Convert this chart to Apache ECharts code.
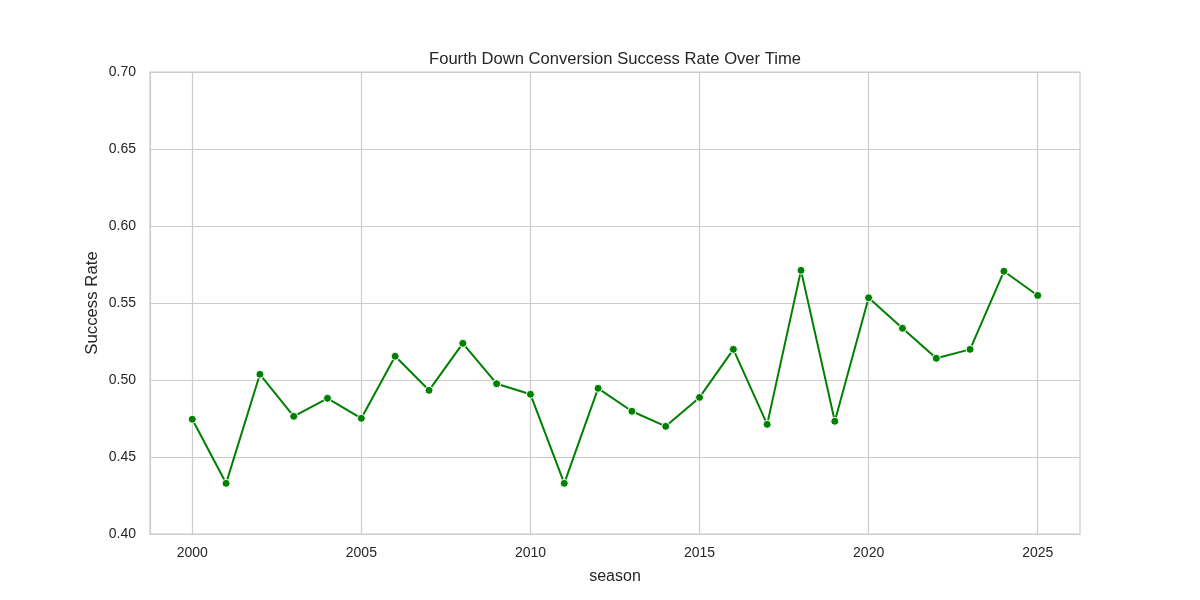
<!DOCTYPE html>
<html>
<head>
<meta charset="utf-8">
<script src="https://cdn.jsdelivr.net/npm/echarts@6/dist/echarts.min.js"></script>
<style>html,body{margin:0;padding:0;background:#fff}#c{width:1200px;height:600px}</style>
</head>
<body>
<div id="c"></div>
<script>
const seasons = [2000,2001,2002,2003,2004,2005,2006,2007,2008,2009,2010,2011,2012,2013,2014,2015,2016,2017,2018,2019,2020,2021,2022,2023,2024,2025];
const successRate = [0.4745,0.4329,0.5037,0.4764,0.4881,0.4751,0.5154,0.4933,0.5238,0.4976,0.4907,0.4329,0.4946,0.4797,0.4699,0.4887,0.5199,0.4712,0.5712,0.4732,0.5534,0.5336,0.5141,0.5199,0.5706,0.5549];
const xTicks = [2000,2005,2010,2015,2020,2025];
const yTicks = [0.40,0.45,0.50,0.55,0.60,0.65,0.70];

const font = 'Liberation Sans, Arial, sans-serif';
const chart = echarts.init(document.getElementById('c'), null, {renderer:'canvas'});
chart.setOption({
  animation: false,
  backgroundColor: '#fff',
  title: {
    text: 'Fourth Down Conversion Success Rate Over Time',
    left: 610, top: 46, textAlign: 'center',
    textStyle: {fontFamily: font, fontSize: 16.6, fontWeight: 'normal', color: '#262626'}
  },
  grid: {left: 150, right: 120, top: 72, bottom: 66, show: true, borderColor: '#cccccc', borderWidth: 1.2, backgroundColor: 'transparent'},
  xAxis: {
    type: 'value', min: 1998.75, max: 2026.25,
    name: 'season', nameLocation: 'middle', nameGap: 35, nameMoveOverlap: false,
    nameTextStyle: {fontFamily: font, fontSize: 16, color: '#262626'},
    axisLine: {show: true, lineStyle: {color: '#cccccc', width: 1.2}},
    axisTick: {show: false, customValues: xTicks},
    axisLabel: {customValues: xTicks, fontFamily: font, fontSize: 14, color: '#262626', margin: 12, formatter: v => String(v)},
    splitLine: {show: true, lineStyle: {color: '#cccccc', width: 1.2}}
  },
  yAxis: {
    type: 'value', min: yTicks[0], max: yTicks[yTicks.length-1], interval: 0.05,
    name: 'Success Rate', nameLocation: 'middle', nameGap: 49, nameRotate: 90, nameMoveOverlap: false,
    nameTextStyle: {fontFamily: font, fontSize: 16.8, color: '#262626'},
    axisLine: {show: true, lineStyle: {color: '#cccccc', width: 1.2}},
    axisTick: {show: false},
    axisLabel: {fontFamily: font, fontSize: 14, color: '#262626', margin: 14, formatter: v => v.toFixed(2)},
    splitLine: {show: true, lineStyle: {color: '#cccccc', width: 1.2}}
  },
  series: [{
    type: 'line',
    data: seasons.map((s,i) => [s, successRate[i]]),
    lineStyle: {color: '#008000', width: 2},
    symbol: 'circle', symbolSize: 8,
    itemStyle: {color: '#008000', borderColor: '#ffffff', borderWidth: 1},
    z: 3
  }]
});
</script>
</body>
</html>
